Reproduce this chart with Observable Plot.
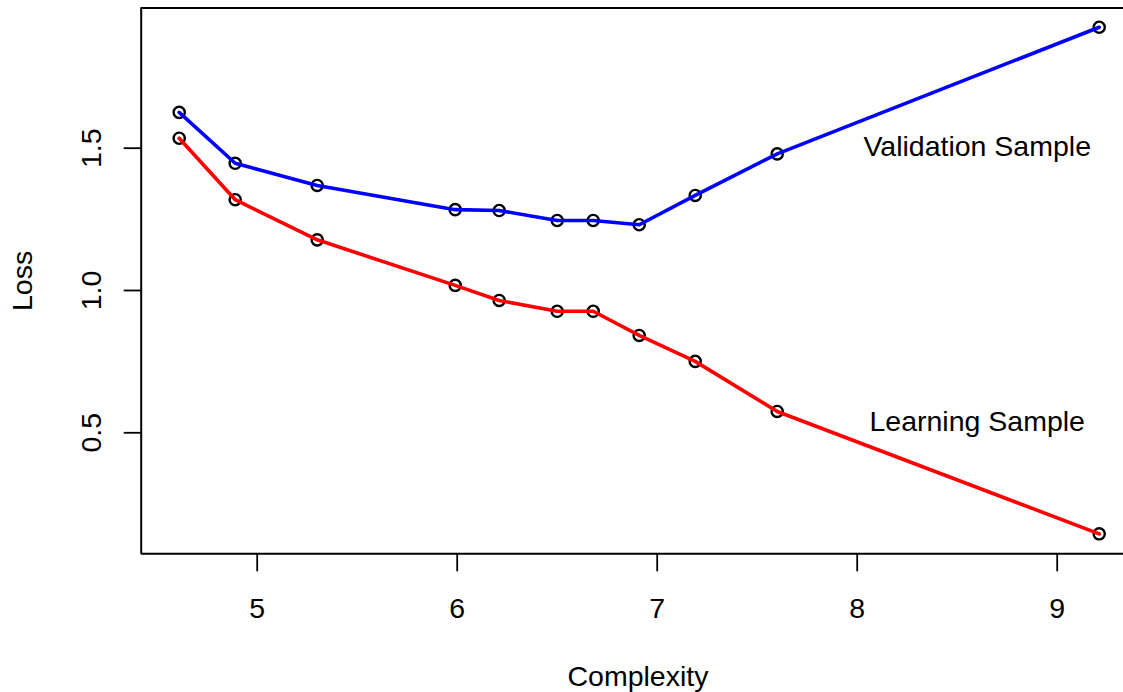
<!DOCTYPE html>
<html><head><meta charset="utf-8">
<script src="https://cdn.jsdelivr.net/npm/d3@7"></script>
<script src="https://cdn.jsdelivr.net/npm/@observablehq/plot@0.6"></script>
<style>body{margin:0;background:#fff;overflow:hidden} svg{display:block}</style>
</head><body><div id="chart"></div>
<script>
const complexity = [4.61, 4.89, 5.30, 5.99, 6.21, 6.50, 6.68, 6.91, 7.19, 7.60, 9.21];
const validationLoss = [1.626, 1.447, 1.369, 1.284, 1.281, 1.246, 1.246, 1.231, 1.334, 1.480, 1.925];
const learningLoss = [1.535, 1.319, 1.178, 1.018, 0.965, 0.927, 0.927, 0.842, 0.751, 0.575, 0.145];
const xTicks = [5, 6, 7, 8, 9];
const yTicks = [0.5, 1.0, 1.5];
const labelText = ["Validation Sample", "Learning Sample"];
const labelX = [8.6, 8.6];
const labelY = [1.503, 0.537];
const xTitle = "Complexity";
const yTitle = "Loss";

const xDomain = [4.42, 9.3315];
const yDomain = [0.0748, 1.9926];

const valid = complexity.map((x, i) => ({x, y: validationLoss[i]}));
const learn = complexity.map((x, i) => ({x, y: learningLoss[i]}));
const labels = labelText.map((t, i) => ({x: labelX[i], y: labelY[i], text: t}));
const font = "'Liberation Sans', Arial, Helvetica, sans-serif";
const fs = 28.5;

const plot = Plot.plot({
  width: 1123, height: 692,
  marginLeft: 140.7, marginRight: 0, marginTop: 7.5, marginBottom: 138.7,
  style: {fontFamily: font, fontSize: fs + "px", background: "#fff", color: "#000", overflow: "visible"},
  x: {domain: xDomain},
  y: {domain: yDomain},
  marks: [
    Plot.axisX(xTicks, {tickSize: 18, tickPadding: 25.5, strokeWidth: 1.8, fontSize: fs, label: null, tickFormat: d => String(d)}),
    Plot.axisY(yTicks, {tickSize: 17, strokeWidth: 1.8, tickFormat: () => "", label: null}),
    Plot.text(yTicks, {y: d => d, text: d => d.toFixed(1), frameAnchor: "left", rotate: -90, dx: -40.7, lineAnchor: "bottom", textAnchor: "middle", fontSize: fs, fill: "black"}),
    Plot.text([yTitle], {text: d => d, frameAnchor: "left", rotate: -90, dx: -109, lineAnchor: "bottom", textAnchor: "middle", fontSize: fs, fill: "black"}),
    Plot.text([xTitle], {text: d => d, frameAnchor: "bottom", dx: 5.6, dy: 131.7, lineAnchor: "bottom", textAnchor: "middle", fontSize: fs, fill: "black"}),
    Plot.ruleX([xDomain[0]], {stroke: "black", strokeWidth: 2}),
    Plot.ruleY(yDomain, {stroke: "black", strokeWidth: 2}),
    Plot.dot(valid, {x: "x", y: "y", r: 5.6, stroke: "black", strokeWidth: 2.4, fill: "none"}),
    Plot.dot(learn, {x: "x", y: "y", r: 5.6, stroke: "black", strokeWidth: 2.4, fill: "none"}),
    Plot.line(valid, {x: "x", y: "y", stroke: "#0000ff", strokeWidth: 3.6}),
    Plot.line(learn, {x: "x", y: "y", stroke: "#ff0000", strokeWidth: 3.6}),
    Plot.text(labels, {x: "x", y: "y", text: "text", fontSize: fs, fill: "black", lineAnchor: "middle", textAnchor: "middle"})
  ]
});
document.getElementById("chart").appendChild(plot);
</script>
</body></html>
